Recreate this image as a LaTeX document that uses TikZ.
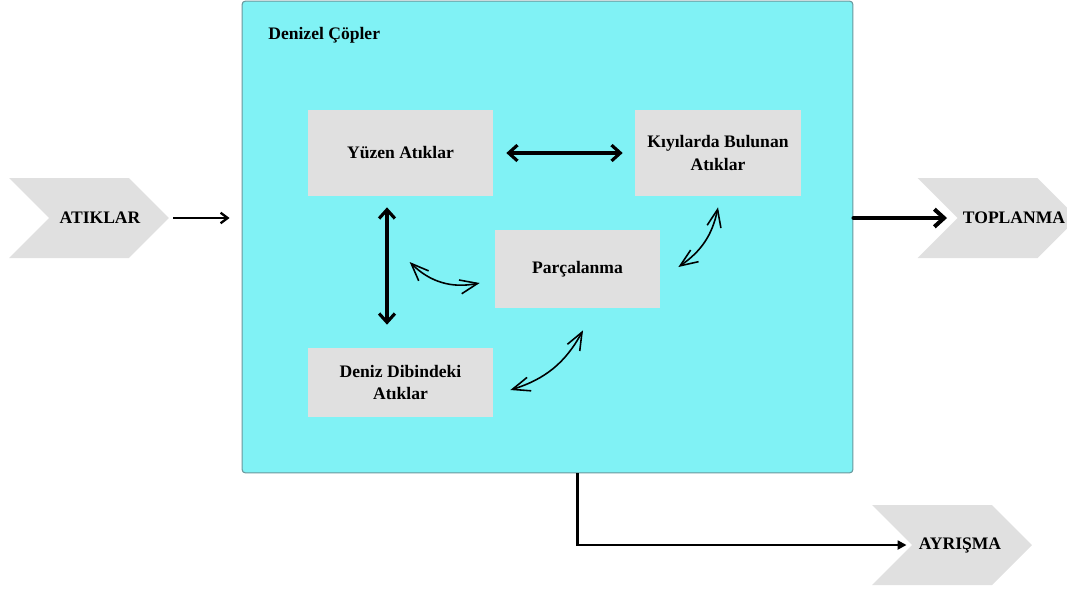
\documentclass[tikz,border=0pt]{standalone}
\usepackage{fontspec}
\setmainfont{Liberation Serif}
\usetikzlibrary{arrows.meta}
\usetikzlibrary{positioning}
\usetikzlibrary{calc}
\usetikzlibrary{shapes.symbols}
\definecolor{seacyan}{RGB}{128,242,245}
\definecolor{boxgray}{RGB}{224,224,224}
\definecolor{seaborder}{RGB}{105,150,155}

\begin{document}
\begin{tikzpicture}[x=0.02cm, y=-0.02cm,
		every node/.style={font=\bfseries\fontsize{10}{13}\selectfont},
		litter/.style={fill=boxgray, align=center, inner sep=0pt},
		chevron/.style={signal, signal from=west, signal to=east, fill=boxgray,
			minimum width=3.2cm, minimum height=1.6cm, inner sep=0pt},
		twoway/.style={line width=1.8pt, line cap=round,
			{Straight Barb[length=5pt,width=9pt]}-{Straight Barb[length=5pt,width=9pt]}},
		sketchy/.style={line width=0.9pt, line cap=round,
			{Straight Barb[length=10pt,width=8pt]}-{Straight Barb[length=10pt,width=8pt]}}]
	
	\useasboundingbox (0,0) rectangle (1067,589);
	\clip (0,0) rectangle (1067,589);
	
	% Sea box
	\node[draw=seaborder, line width=0.6pt, fill=seacyan, rounded corners=2pt,
		minimum width=12.22cm, minimum height=9.44cm] (sea) at (547.5,237) {};
	\node[anchor=west, inner sep=0pt] (title) at (268,35) {Denizel Çöpler};
	
	% Kinds of litter
	\node[litter, minimum width=3.7cm, minimum height=1.72cm] (yuzen) at (400.5,153) {Yüzen Atıklar};
	\node[litter, minimum width=3.32cm, minimum height=1.72cm] (kiyi) at (718,153) {Kıyılarda Bulunan\\Atıklar};
	\node[litter, minimum width=3.3cm, minimum height=1.56cm] (parca) at (577.5,269) {Parçalanma};
	\node[litter, minimum width=3.7cm, minimum height=1.38cm] (deniz) at (400.5,382.5) {Deniz Dibindeki\\Atıklar};
	
	% Chevrons outside
	\node[chevron, label={[xshift=0.22cm]center:ATIKLAR}] (atik) at (89,218) {};
	\node[chevron, label={[xshift=0.33cm]center:TOPLANMA}] (topla) at (997.5,218) {};
	\node[chevron, label={[xshift=0.16cm]center:AYRIŞMA}] (ayris) at (952,545) {};
	
	% Straight links
	\draw[twoway, shorten <=0.26cm, shorten >=0.24cm] (yuzen.east) -- (kiyi.west);
	\draw[twoway, shorten <=0.22cm, shorten >=0.46cm]
		([xshift=-0.27cm]yuzen.south) -- ([xshift=-0.27cm]deniz.north);
	
	% Hand drawn links
	\draw[sketchy] ($(parca.west)+(-85,-7)$) to[bend right=28] ($(parca.west)+(-15,14)$);
	\draw[sketchy] ($(parca.south)+(5.5,22)$) to[bend left=22] ($(deniz.east)+(17,7.5)$);
	\draw[sketchy] ($(kiyi.south)+(0,11)$) to[bend left=22] ($(parca.east)+(18,-2)$);
	
	% In and out
	\draw[line width=1.3pt, -{Straight Barb[length=4pt,width=6pt]}, shorten <=0.08cm, shorten >=0.24cm]
		(atik.east) -- (atik.east -| sea.west);
	\draw[line width=2.3pt, line cap=round, -{Straight Barb[length=5.5pt,width=10pt]}, shorten >=0.2cm]
		(topla.west -| sea.east) -- (topla.west);
	\draw[line width=1.4pt, -{Triangle[length=5pt,width=5pt]}, shorten >=0.1cm]
		(parca |- sea.south) -- (parca |- ayris) -- (ayris.west);
	
\end{tikzpicture}
\end{document}
